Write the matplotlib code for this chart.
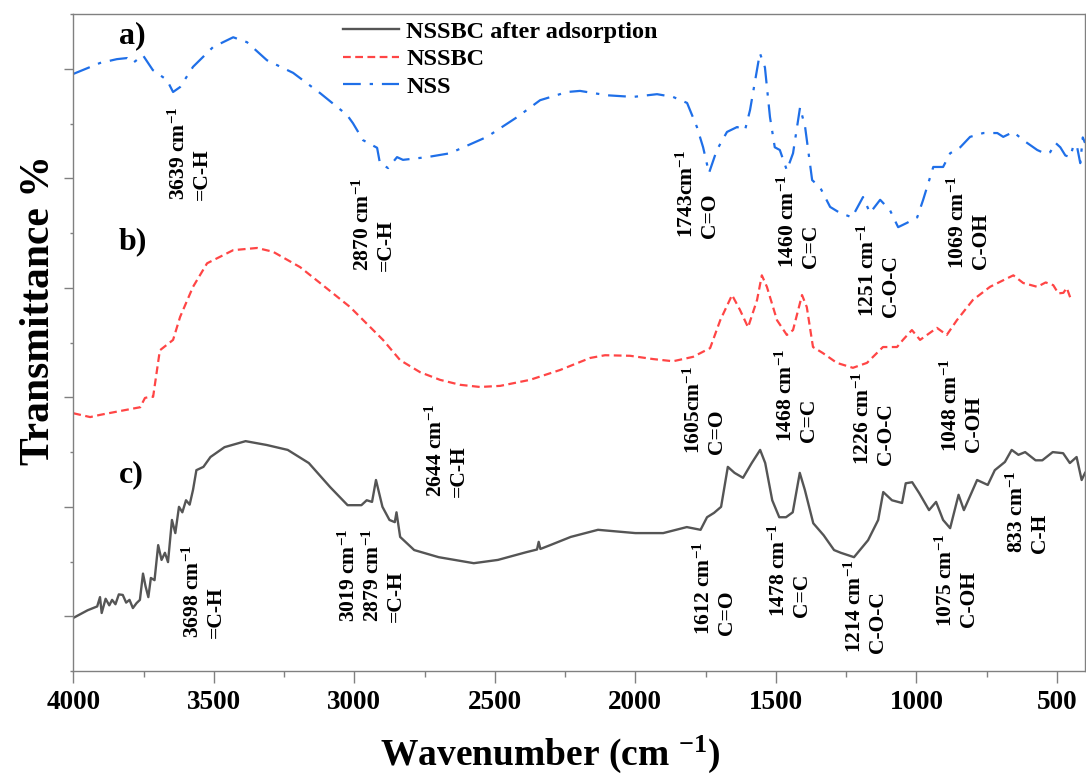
import numpy as np
import matplotlib
matplotlib.use("Agg")
import matplotlib.pyplot as plt
from matplotlib.ticker import FixedLocator

# FTIR spectra, values (transmittance in arbitrary % units)
nss_wn = [4000, 3905, 3845, 3809, 3788, 3752, 3717, 3667, 3645, 3620, 3574, 3503, 3431, 3382,
          3311, 3218, 3122, 3026, 3005, 2969, 2919, 2909, 2880, 2848, 2827, 2741, 2660, 2528,
          2421, 2339, 2243, 2197, 2101, 2008, 1923, 1866, 1816, 1781, 1759, 1738, 1710, 1674,
          1638, 1610, 1592, 1557, 1539, 1521, 1504, 1486, 1461, 1439, 1414, 1396, 1371, 1343,
          1307, 1272, 1229, 1190, 1165, 1129, 1094, 1065, 1033, 997, 976, 940, 905, 880, 844,
          809, 762, 712, 691, 655, 620, 570, 540, 524, 505, 488, 470, 453, 440, 428, 417, 408, 400]
nss_t = [109.1, 111.1, 111.8, 112.0, 111.1, 112.5, 109.8, 108.0, 105.8, 106.7, 110.4, 114.0, 115.8, 114.9,
         111.6, 109.3, 105.6, 101.6, 100.1, 97.0, 95.6, 92.8, 91.9, 93.9, 93.4, 93.9, 94.6, 97.6,
         101.2, 104.3, 105.8, 106.0, 105.2, 104.9, 105.4, 104.9, 103.8, 99.4, 95.7, 91.0, 95.2, 98.5,
         99.4, 98.8, 102.5, 112.9, 110.3, 101.2, 95.7, 95.2, 91.5, 94.6, 103.0, 99.4, 89.7, 88.4,
         84.8, 83.7, 82.9, 86.6, 83.7, 86.1, 84.2, 81.1, 81.9, 82.9, 86.1, 92.1, 92.1, 94.6, 95.7,
         97.6, 98.3, 98.3, 97.6, 98.5, 97.0, 95.2, 94.5, 94.8, 96.5, 95.7, 94.2, 93.9, 96.2, 95.7, 92.8, 97.5, 96.5]

nssbc_wn = [4000, 3940, 3905, 3834, 3762, 3745, 3727, 3716, 3692, 3645, 3620, 3574, 3524, 3431,
            3346, 3289, 3193, 3122, 3015, 2898, 2837, 2766, 2695, 2624, 2553, 2481, 2375, 2268,
            2161, 2108, 2019, 1937, 1866, 1795, 1734, 1698, 1656, 1628, 1599, 1567, 1550, 1532,
            1496, 1461, 1439, 1407, 1390, 1368, 1333, 1283, 1226, 1176, 1119, 1069, 1048, 1016,
            987, 927, 892, 856, 799, 738, 691, 655, 620, 570, 540, 513, 495, 477, 465, 453]
nssbc_t = [47.1, 46.4, 46.8, 47.5, 48.2, 49.9, 50.1, 50.1, 58.6, 60.5, 64.7, 70.2, 74.5, 76.9,
           77.3, 76.6, 73.8, 70.9, 66.5, 60.5, 56.8, 54.6, 53.2, 52.3, 51.9, 52.1, 53.2, 55.0,
           57.2, 57.7, 57.6, 57.0, 56.6, 57.4, 59.0, 64.1, 68.7, 66.0, 62.8, 67.8, 72.3, 70.2,
           64.1, 61.4, 62.3, 68.7, 66.5, 59.2, 58.1, 56.3, 55.4, 56.3, 59.2, 59.2, 60.5, 62.3,
           60.5, 62.7, 61.4, 64.1, 67.8, 70.2, 71.4, 72.3, 70.9, 70.2, 71.0, 70.5, 69.0, 69.1, 70.0, 68.3]

after_wn = [4000, 3949, 3915, 3905, 3899, 3885, 3872, 3862, 3850, 3838, 3824, 3812, 3800, 3788,
            3775, 3763, 3752, 3743, 3733, 3724, 3711, 3698, 3686, 3674, 3663,
            3649, 3637, 3624, 3612, 3599, 3586, 3574, 3562, 3537, 3512, 3462, 3387, 3312, 3237, 3162, 3086,
            3024, 2975, 2956, 2937, 2923, 2900, 2875, 2856, 2850, 2837, 2787, 2700, 2575, 2489,
            2389, 2350, 2344, 2338, 2303, 2230, 2133, 2000, 1901, 1817, 1768, 1745, 1720, 1695, 1671, 1647,
            1617, 1586, 1556, 1538, 1513, 1488, 1464, 1440, 1415, 1397, 1367, 1330, 1293, 1269,
            1222, 1172, 1136, 1118, 1087, 1051, 1038, 1015, 990, 955, 930, 905, 880, 850, 831,
            784, 746, 721, 685, 661, 637, 613, 576, 552, 515, 478, 454, 430, 412, 400]
after_t = [9.7, 11.1, 11.8, 13.5, 10.6, 13.2, 12.0, 13.0, 12.2, 14.0, 13.9, 12.5, 13.0, 11.5,
           12.4, 13.0, 17.8, 15.5, 13.5, 17.0, 16.6, 23.0, 20.3, 21.6, 19.9,
           27.6, 25.2, 30.0, 29.0, 31.2, 30.4, 33.1, 36.7, 37.3, 39.1, 40.9, 42.0, 41.3, 40.4, 38.0, 33.6,
           30.3, 30.3, 31.2, 30.9, 34.9, 30.0, 27.6, 27.2, 29.0, 24.5, 22.1, 20.8, 19.7, 20.3,
           21.7, 22.2, 23.6, 22.3, 23.0, 24.5, 25.8, 25.2, 25.2, 26.3, 25.8, 28.1, 28.9, 30.0, 37.3, 36.2,
           35.3, 38.0, 40.4, 38.0, 31.2, 28.1, 28.1, 29.0, 36.2, 33.1, 27.0, 24.8, 22.1, 21.6,
           20.8, 23.9, 27.6, 32.7, 31.2, 30.7, 34.3, 34.5, 32.5, 29.4, 30.9, 27.6, 26.1, 32.2, 29.4,
           34.9, 34.0, 36.7, 38.2, 40.4, 39.5, 40.0, 38.5, 38.5, 40.0, 39.8, 38.0, 39.1, 34.9, 36.2]

# peak annotations: (wavenumber, transmittance, text)
peak_wn = [3585, 2930, 1777, 1417, 1133, 813,
           2670, 1752, 1425, 1151, 837,
           3534, 2937, 1716, 1449, 1179, 855, 602]
peak_t = [86.0, 73.1, 79.1, 73.7, 64.7, 73.5,
          31.8, 39.6, 41.8, 37.6, 40.0,
          6.0, 9.0, 6.6, 9.9, 3.3, 8.0, 21.6]
peak_txt = ["3639 cm$^{-1}$\n=C-H", "2870 cm$^{-1}$\n=C-H", "1743cm$^{-1}$\nC=O",
            "1460 cm$^{-1}$\nC=C", "1251 cm$^{-1}$\nC-O-C", "1069 cm$^{-1}$\nC-OH",
            "2644 cm$^{-1}$\n=C-H", "1605cm$^{-1}$\nC=O", "1468 cm$^{-1}$\nC=C",
            "1226 cm$^{-1}$\nC-O-C", "1048 cm$^{-1}$\nC-OH",
            "3698 cm$^{-1}$\n=C-H", "3019 cm$^{-1}$\n2879 cm$^{-1}$\n=C-H", "1612 cm$^{-1}$\nC=O",
            "1478 cm$^{-1}$\nC=C", "1214 cm$^{-1}$\nC-O-C", "1075 cm$^{-1}$\nC-OH", "833 cm$^{-1}$\nC-H"]

panel_txt = ["a)", "b)", "c)"]
panel_wn = [3790, 3790, 3795]
panel_t = [116.0, 78.5, 35.8]

plt.rcParams['font.family'] = ['Liberation Serif', 'DejaVu Serif']
plt.rcParams['font.weight'] = 'bold'
plt.rcParams['mathtext.fontset'] = 'custom'
plt.rcParams['mathtext.rm'] = 'Liberation Serif:bold'
plt.rcParams['mathtext.bf'] = 'Liberation Serif:bold'
plt.rcParams['mathtext.default'] = 'rm'

fig = plt.figure(figsize=(10.86, 7.76), dpi=100)
ax = fig.add_axes([0.0675, 0.1353, 0.9316, 0.8463])

ax.plot(after_wn, after_t, color='#555555', lw=1.7, label='NSSBC after adsorption')
ax.plot(nssbc_wn, nssbc_t, color='#ff4545', lw=1.6, ls=(0, (3.5, 2)), label='NSSBC')
ax.plot(nss_wn, nss_t, color='#1f6fe8', lw=1.6, ls=(0, (8, 4, 1.5, 4)), label='NSS')

ax.set_xlim(4000, 400)
ax.set_ylim(0, 120)
ax.xaxis.set_major_locator(FixedLocator([4000, 3500, 3000, 2500, 2000, 1500, 1000, 500]))
ax.xaxis.set_minor_locator(FixedLocator([3750, 3250, 2750, 2250, 1750, 1250, 750]))
ax.yaxis.set_major_locator(FixedLocator([10, 30, 50, 70, 90, 110]))
ax.yaxis.set_minor_locator(FixedLocator([0, 20, 40, 60, 80, 100, 120]))
ax.set_yticklabels([])
ax.tick_params(axis='x', which='major', length=8.5, width=1, color='#808080', labelsize=19.5, pad=5)
ax.tick_params(axis='x', which='minor', length=4.5, width=1, color='#808080')
ax.tick_params(axis='y', which='major', length=6.5, width=1, color='#808080')
ax.tick_params(axis='y', which='minor', length=2.5, width=1, color='#808080')
for s in ax.spines.values():
    s.set_color('#808080')
    s.set_linewidth(1)

ax.set_xlabel('Wavenumber (cm $^{-1}$)', fontsize=27, fontweight='bold')
ax.xaxis.set_label_coords(0.471, -0.095)
ax.set_ylabel('Transmittance %', fontsize=30, fontweight='bold')
ax.yaxis.set_label_coords(-0.015, 0.55)

for w, t, s in zip(peak_wn, peak_t, peak_txt):
    ax.text(w, t, s, rotation=90, ha='center', va='bottom', fontsize=15.5,
            fontweight='bold', multialignment='left', linespacing=1.15)

for w, t, s in zip(panel_wn, panel_t, panel_txt):
    ax.text(w, t, s, ha='center', va='center', fontsize=23, fontweight='bold')

ax.legend(loc='upper left', bbox_to_anchor=(0.2666, 0.99), frameon=False, fontsize=17.5,
          handlelength=2.3, handletextpad=0.3, labelspacing=0.22, borderpad=0, borderaxespad=0)

fig.savefig('out.png', dpi=100)
